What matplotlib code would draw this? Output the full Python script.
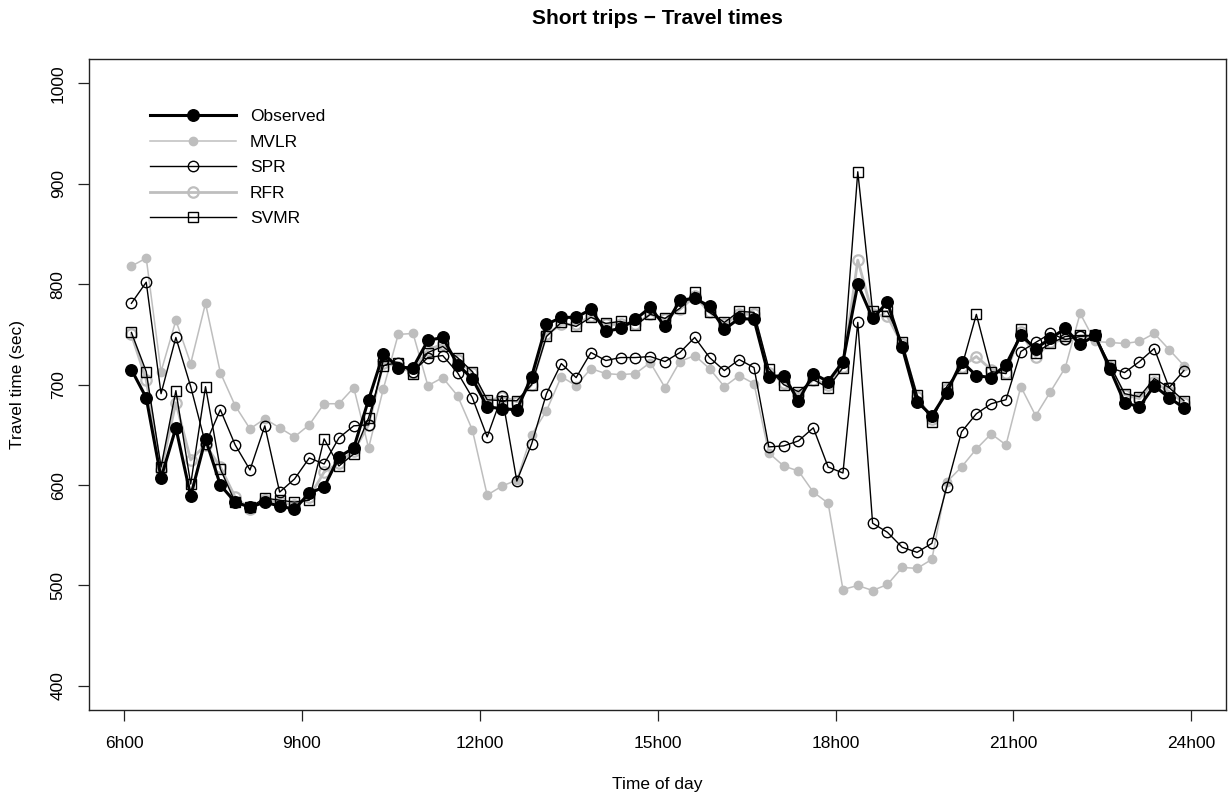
import matplotlib
matplotlib.use("Agg")
import matplotlib.pyplot as plt
import numpy as np

plt.rcParams['font.family'] = ['Liberation Sans', 'DejaVu Sans']

# time of day (hours) - midpoints of 15-minute intervals
times = np.arange(6.125, 24.0, 0.25)

observed = [715, 687, 607, 657, 589, 646, 600, 583, 578, 583, 579, 576,
            592, 598, 628, 637, 685, 731, 717, 717, 744, 747, 720, 706,
            678, 676, 675, 708, 760, 767, 767, 775, 753, 756, 765, 777,
            758, 784, 786, 778, 755, 766, 765, 708, 709, 684, 711, 703,
            723, 800, 766, 782, 737, 683, 669, 692, 723, 709, 707, 720,
            749, 736, 746, 756, 740, 749, 716, 682, 678, 699, 687, 677]

mvlr = [818, 826, 713, 764, 721, 781, 712, 679, 656, 666, 657, 648,
        660, 681, 681, 697, 637, 696, 750, 751, 699, 707, 689, 655,
        590, 599, 605, 650, 674, 708, 699, 716, 711, 710, 711, 722,
        697, 723, 729, 716, 698, 709, 701, 632, 619, 614, 593, 582,
        496, 500, 495, 501, 518, 517, 526, 603, 618, 636, 651, 640,
        698, 669, 693, 717, 771, 743, 742, 741, 743, 751, 735, 719]

spr = [781, 802, 691, 747, 698, 641, 675, 640, 615, 659, 593, 606,
       627, 621, 647, 659, 660, 725, 722, 713, 727, 729, 712, 687,
       648, 689, 604, 641, 691, 721, 707, 732, 724, 727, 727, 728,
       723, 732, 747, 727, 714, 725, 717, 638, 639, 644, 657, 618,
       612, 762, 562, 553, 538, 533, 542, 598, 653, 671, 681, 685,
       733, 742, 751, 745, 748, 749, 717, 712, 723, 736, 697, 714]

rfr = [750, 705, 615, 682, 625, 640, 618, 588, 576, 585, 583, 580,
       588, 613, 622, 634, 660, 722, 718, 712, 735, 740, 725, 712,
       683, 688, 683, 700, 750, 760, 760, 768, 760, 760, 760, 770,
       765, 775, 788, 772, 760, 770, 770, 712, 702, 690, 705, 700,
       718, 824, 770, 768, 740, 688, 666, 696, 718, 728, 715, 712,
       752, 728, 742, 745, 748, 748, 718, 690, 686, 703, 693, 682]

svmr = [752, 713, 618, 694, 601, 698, 616, 583, 578, 587, 585, 583,
        585, 646, 619, 631, 667, 719, 722, 711, 732, 738, 727, 713,
        685, 684, 684, 700, 748, 762, 758, 767, 761, 763, 759, 770,
        766, 776, 792, 772, 762, 773, 772, 716, 700, 693, 705, 697,
        717, 912, 773, 773, 742, 690, 663, 698, 717, 770, 713, 711,
        755, 732, 741, 748, 749, 749, 720, 691, 688, 706, 697, 684]

xticks = [6, 9, 12, 15, 18, 21, 24]
xticklabels = ["6h00", "9h00", "12h00", "15h00", "18h00", "21h00", "24h00"]
yticks = [400, 500, 600, 700, 800, 900, 1000]

W, H = 1229, 798
fig = plt.figure(figsize=(W / 100, H / 100), dpi=100)
ax = fig.add_axes([89.3 / W, 1 - 710 / H, (1226 - 89.3) / W, (710 - 59.3) / H])

gray = '#BEBEBE'
ax.plot(times, observed, color='black', lw=2.2, marker='o', ms=8.3,
        mfc='black', mec='black', label='Observed', zorder=3)
ax.plot(times, mvlr, color=gray, lw=1.1, marker='o', ms=6,
        mfc=gray, mec=gray, label='MVLR', zorder=2)
ax.plot(times, spr, color='black', lw=1.0, marker='o', ms=7.5,
        mfc='none', mec='black', mew=1.0, label='SPR', zorder=4)
ax.plot(times, rfr, color=gray, lw=2.0, marker='o', ms=7.5,
        mfc='none', mec=gray, mew=1.6, label='RFR', zorder=2.5)
ax.plot(times, svmr, color='black', lw=1.0, marker='s', ms=7,
        mfc='none', mec='black', mew=1.0, label='SVMR', zorder=5)

ax.set_xlim(5.415, 24.585)
ax.set_ylim(376, 1024)
ax.set_xticks(xticks)
ax.set_xticklabels(xticklabels)
ax.set_yticks(yticks)
ax.set_yticklabels([str(v) for v in yticks])

ax.tick_params(axis='both', direction='out', length=8, width=0.9,
               labelsize=12.5, color='#222222')
ax.tick_params(axis='x', pad=11)
ax.tick_params(axis='y', pad=9, labelrotation=90)
for lab in ax.get_yticklabels():
    lab.set_va('center')
for s in ax.spines.values():
    s.set_linewidth(1.0)
    s.set_color('#222222')

fig.text(657.7 / W, 1 - 18.5 / H, "Short trips \u2212 Travel times",
         ha='center', va='center', fontsize=15, fontweight='bold')
fig.text(657.7 / W, 1 - 784 / H, "Time of day", ha='center', va='center',
         fontsize=12.5)
fig.text(18 / W, 1 - 384.6 / H, "Travel time (sec)", ha='center',
         va='center', rotation=90, fontsize=12.5)

leg = ax.legend(loc='upper left',
                bbox_to_anchor=((150 - 89.3) / (1226 - 89.3), (710 - 109) / (710 - 59.3)),
                frameon=False, fontsize=12.5, handlelength=4.95,
                handletextpad=0.8, labelspacing=0.6, borderpad=0,
                borderaxespad=0, numpoints=1)

fig.savefig("out.png", dpi=100)
